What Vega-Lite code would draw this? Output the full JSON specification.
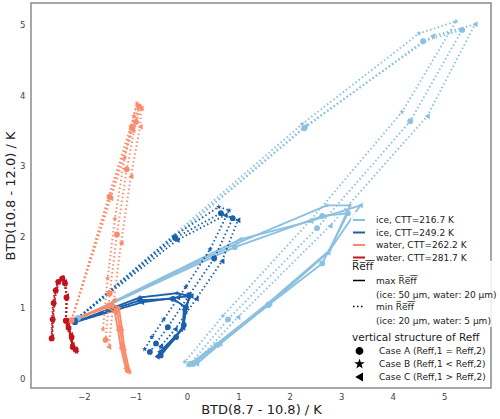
{
"$schema": "https://vega.github.io/schema/vega-lite/v6.json",
"width": 460, "height": 385,
"autosize": "none",
"padding": {"left": 31, "top": 3, "right": 9, "bottom": 31},
"config": {
  "font": "DejaVu Sans",
  "view": {"stroke": "#8a8a8a", "strokeWidth": 1.5},
  "axis": {"grid": false, "ticks": false, "domain": false, "labelFontSize": 8.5, "labelColor": "#444", "titleFontSize": 13, "titleFontWeight": "normal", "titleColor": "#222"},
  "legend": {"orient": "none", "labelFontSize": 9, "titleFontSize": 10.5, "titleFontWeight": "normal", "labelColor": "#222", "titleColor": "#222", "padding": 1, "fillColor": "rgba(255,255,255,0.85)", "rowPadding": 0.5, "labelOffset": 10, "titlePadding": 1},
  "style": {"guide-label": {"lineHeight": 14}}
},
"data": {"values": [
{"g":"a","r":"max","c":"A","o":0,"x":-2.16,"y":0.82},{"g":"a","r":"max","c":"A","o":1,"x":0.93,"y":1.85},{"g":"a","r":"max","c":"A","o":2,"x":2.63,"y":2.29},{"g":"a","r":"max","c":"A","o":3,"x":3.13,"y":2.33},{"g":"a","r":"max","c":"A","o":4,"x":2.63,"y":1.62},{"g":"a","r":"max","c":"A","o":5,"x":1.58,"y":1.03},{"g":"a","r":"max","c":"A","o":6,"x":0.60,"y":0.47},{"g":"a","r":"max","c":"A","o":7,"x":0.12,"y":0.20},
{"g":"a","r":"max","c":"B","o":0,"x":-2.16,"y":0.82},{"g":"a","r":"max","c":"B","o":1,"x":0.99,"y":1.91},{"g":"a","r":"max","c":"B","o":2,"x":2.72,"y":2.44},{"g":"a","r":"max","c":"B","o":3,"x":3.17,"y":2.44},{"g":"a","r":"max","c":"B","o":4,"x":2.78,"y":1.81},{"g":"a","r":"max","c":"B","o":5,"x":1.58,"y":1.06},{"g":"a","r":"max","c":"B","o":6,"x":0.56,"y":0.47},{"g":"a","r":"max","c":"B","o":7,"x":0.02,"y":0.18},
{"g":"a","r":"max","c":"C","o":0,"x":-2.16,"y":0.82},{"g":"a","r":"max","c":"C","o":1,"x":1.03,"y":1.96},{"g":"a","r":"max","c":"C","o":2,"x":2.41,"y":2.22},{"g":"a","r":"max","c":"C","o":3,"x":3.37,"y":2.44},{"g":"a","r":"max","c":"C","o":4,"x":2.74,"y":1.77},{"g":"a","r":"max","c":"C","o":5,"x":1.61,"y":1.05},{"g":"a","r":"max","c":"C","o":6,"x":0.64,"y":0.48},{"g":"a","r":"max","c":"C","o":7,"x":0.19,"y":0.20},
{"g":"a","r":"min","c":"B","o":0,"x":-2.12,"y":0.85},{"g":"a","r":"min","c":"B","o":1,"x":2.24,"y":3.59},{"g":"a","r":"min","c":"B","o":2,"x":4.51,"y":4.87},{"g":"a","r":"min","c":"B","o":3,"x":5.23,"y":5.04},{"g":"a","r":"min","c":"B","o":4,"x":4.18,"y":3.76},{"g":"a","r":"min","c":"B","o":5,"x":2.39,"y":2.22},{"g":"a","r":"min","c":"B","o":6,"x":0.70,"y":0.88},{"g":"a","r":"min","c":"B","o":7,"x":-0.04,"y":0.23},
{"g":"a","r":"min","c":"A","o":0,"x":-2.12,"y":0.85},{"g":"a","r":"min","c":"A","o":1,"x":2.28,"y":3.53},{"g":"a","r":"min","c":"A","o":2,"x":4.59,"y":4.76},{"g":"a","r":"min","c":"A","o":3,"x":5.35,"y":4.92},{"g":"a","r":"min","c":"A","o":4,"x":4.34,"y":3.63},{"g":"a","r":"min","c":"A","o":5,"x":2.53,"y":2.12},{"g":"a","r":"min","c":"A","o":6,"x":0.80,"y":0.83},{"g":"a","r":"min","c":"A","o":7,"x":0.06,"y":0.20},
{"g":"a","r":"min","c":"C","o":0,"x":-2.12,"y":0.85},{"g":"a","r":"min","c":"C","o":1,"x":2.30,"y":3.56},{"g":"a","r":"min","c":"C","o":2,"x":4.77,"y":4.83},{"g":"a","r":"min","c":"C","o":3,"x":5.60,"y":5.00},{"g":"a","r":"min","c":"C","o":4,"x":4.67,"y":3.70},{"g":"a","r":"min","c":"C","o":5,"x":2.78,"y":2.15},{"g":"a","r":"min","c":"C","o":6,"x":0.99,"y":0.86},{"g":"a","r":"min","c":"C","o":7,"x":0.18,"y":0.23},
{"g":"b","r":"max","c":"A","o":0,"x":-2.18,"y":0.79},{"g":"b","r":"max","c":"A","o":1,"x":-0.91,"y":1.10},{"g":"b","r":"max","c":"A","o":2,"x":-0.27,"y":1.12},{"g":"b","r":"max","c":"A","o":3,"x":-0.02,"y":1.00},{"g":"b","r":"max","c":"A","o":4,"x":-0.06,"y":0.75},{"g":"b","r":"max","c":"A","o":5,"x":-0.21,"y":0.58},{"g":"b","r":"max","c":"A","o":6,"x":-0.51,"y":0.32},
{"g":"b","r":"max","c":"B","o":0,"x":-2.18,"y":0.79},{"g":"b","r":"max","c":"B","o":1,"x":-0.91,"y":1.14},{"g":"b","r":"max","c":"B","o":2,"x":-0.19,"y":1.20},{"g":"b","r":"max","c":"B","o":3,"x":0.04,"y":1.16},{"g":"b","r":"max","c":"B","o":4,"x":-0.02,"y":0.93},{"g":"b","r":"max","c":"B","o":5,"x":-0.10,"y":0.68},{"g":"b","r":"max","c":"B","o":6,"x":-0.53,"y":0.37},
{"g":"b","r":"max","c":"C","o":0,"x":-2.18,"y":0.79},{"g":"b","r":"max","c":"C","o":1,"x":-0.88,"y":1.07},{"g":"b","r":"max","c":"C","o":2,"x":-0.18,"y":1.14},{"g":"b","r":"max","c":"C","o":3,"x":0.08,"y":1.16},{"g":"b","r":"max","c":"C","o":4,"x":-0.06,"y":0.97},{"g":"b","r":"max","c":"C","o":5,"x":-0.08,"y":0.71},{"g":"b","r":"max","c":"C","o":6,"x":-0.58,"y":0.30},
{"g":"b","r":"min","c":"B","o":0,"x":-2.18,"y":0.81},{"g":"b","r":"min","c":"B","o":1,"x":-0.25,"y":2.01},{"g":"b","r":"min","c":"B","o":2,"x":0.62,"y":2.42},{"g":"b","r":"min","c":"B","o":3,"x":0.82,"y":2.37},{"g":"b","r":"min","c":"B","o":4,"x":0.45,"y":1.82},{"g":"b","r":"min","c":"B","o":5,"x":-0.02,"y":1.29},{"g":"b","r":"min","c":"B","o":6,"x":-0.45,"y":0.83},{"g":"b","r":"min","c":"B","o":7,"x":-0.68,"y":0.58},{"g":"b","r":"min","c":"B","o":8,"x":-0.82,"y":0.41},
{"g":"b","r":"min","c":"A","o":0,"x":-2.18,"y":0.81},{"g":"b","r":"min","c":"A","o":1,"x":-0.23,"y":1.98},{"g":"b","r":"min","c":"A","o":2,"x":0.66,"y":2.33},{"g":"b","r":"min","c":"A","o":3,"x":0.89,"y":2.26},{"g":"b","r":"min","c":"A","o":4,"x":0.53,"y":1.69},{"g":"b","r":"min","c":"A","o":5,"x":0.04,"y":1.17},{"g":"b","r":"min","c":"A","o":6,"x":-0.37,"y":0.72},{"g":"b","r":"min","c":"A","o":7,"x":-0.60,"y":0.49},{"g":"b","r":"min","c":"A","o":8,"x":-0.72,"y":0.37},
{"g":"b","r":"min","c":"C","o":0,"x":-2.18,"y":0.81},{"g":"b","r":"min","c":"C","o":1,"x":-0.19,"y":1.95},{"g":"b","r":"min","c":"C","o":2,"x":0.74,"y":2.30},{"g":"b","r":"min","c":"C","o":3,"x":0.99,"y":2.23},{"g":"b","r":"min","c":"C","o":4,"x":0.68,"y":1.65},{"g":"b","r":"min","c":"C","o":5,"x":0.18,"y":1.12},{"g":"b","r":"min","c":"C","o":6,"x":-0.23,"y":0.69},{"g":"b","r":"min","c":"C","o":7,"x":-0.51,"y":0.45},{"g":"b","r":"min","c":"C","o":8,"x":-0.56,"y":0.32},
{"g":"c","r":"max","c":"A","o":0,"x":-2.26,"y":0.81},{"g":"c","r":"max","c":"A","o":1,"x":-1.50,"y":1.03},{"g":"c","r":"max","c":"A","o":2,"x":-1.36,"y":0.96},{"g":"c","r":"max","c":"A","o":3,"x":-1.30,"y":0.71},{"g":"c","r":"max","c":"A","o":4,"x":-1.25,"y":0.44},{"g":"c","r":"max","c":"A","o":5,"x":-1.15,"y":0.11},
{"g":"c","r":"max","c":"B","o":0,"x":-2.26,"y":0.81},{"g":"c","r":"max","c":"B","o":1,"x":-1.46,"y":1.05},{"g":"c","r":"max","c":"B","o":2,"x":-1.32,"y":0.99},{"g":"c","r":"max","c":"B","o":3,"x":-1.26,"y":0.68},{"g":"c","r":"max","c":"B","o":4,"x":-1.21,"y":0.40},{"g":"c","r":"max","c":"B","o":5,"x":-1.11,"y":0.08},
{"g":"c","r":"max","c":"C","o":0,"x":-2.26,"y":0.81},{"g":"c","r":"max","c":"C","o":1,"x":-1.54,"y":1.00},{"g":"c","r":"max","c":"C","o":2,"x":-1.40,"y":0.93},{"g":"c","r":"max","c":"C","o":3,"x":-1.34,"y":0.68},{"g":"c","r":"max","c":"C","o":4,"x":-1.28,"y":0.42},{"g":"c","r":"max","c":"C","o":5,"x":-1.19,"y":0.14},
{"g":"c","r":"min","c":"B","o":0,"x":-2.24,"y":0.82},{"g":"c","r":"min","c":"B","o":1,"x":-1.52,"y":2.57},{"g":"c","r":"min","c":"B","o":2,"x":-1.09,"y":3.56},{"g":"c","r":"min","c":"B","o":3,"x":-0.97,"y":3.88},{"g":"c","r":"min","c":"B","o":4,"x":-1.03,"y":3.70},{"g":"c","r":"min","c":"B","o":5,"x":-1.21,"y":3.11},{"g":"c","r":"min","c":"B","o":6,"x":-1.40,"y":2.25},{"g":"c","r":"min","c":"B","o":7,"x":-1.54,"y":1.41},{"g":"c","r":"min","c":"B","o":8,"x":-1.63,"y":0.69},
{"g":"c","r":"min","c":"A","o":0,"x":-2.24,"y":0.82},{"g":"c","r":"min","c":"A","o":1,"x":-1.50,"y":2.56},{"g":"c","r":"min","c":"A","o":2,"x":-1.07,"y":3.53},{"g":"c","r":"min","c":"A","o":3,"x":-0.93,"y":3.84},{"g":"c","r":"min","c":"A","o":4,"x":-0.99,"y":3.62},{"g":"c","r":"min","c":"A","o":5,"x":-1.17,"y":2.95},{"g":"c","r":"min","c":"A","o":6,"x":-1.36,"y":2.03},{"g":"c","r":"min","c":"A","o":7,"x":-1.50,"y":1.20},{"g":"c","r":"min","c":"A","o":8,"x":-1.58,"y":0.54},
{"g":"c","r":"min","c":"C","o":0,"x":-2.24,"y":0.82},{"g":"c","r":"min","c":"C","o":1,"x":-1.48,"y":2.54},{"g":"c","r":"min","c":"C","o":2,"x":-1.05,"y":3.50},{"g":"c","r":"min","c":"C","o":3,"x":-0.89,"y":3.81},{"g":"c","r":"min","c":"C","o":4,"x":-0.91,"y":3.55},{"g":"c","r":"min","c":"C","o":5,"x":-1.09,"y":2.85},{"g":"c","r":"min","c":"C","o":6,"x":-1.28,"y":1.91},{"g":"c","r":"min","c":"C","o":7,"x":-1.42,"y":1.10},{"g":"c","r":"min","c":"C","o":8,"x":-1.52,"y":0.44},
{"g":"d","r":"max","c":"A","o":0,"x":-2.35,"y":0.81},{"g":"d","r":"max","c":"A","o":1,"x":-2.30,"y":0.71},{"g":"d","r":"max","c":"A","o":2,"x":-2.24,"y":0.58},{"g":"d","r":"max","c":"A","o":3,"x":-2.22,"y":0.44},{"g":"d","r":"max","c":"A","o":4,"x":-2.16,"y":0.40},
{"g":"d","r":"max","c":"B","o":0,"x":-2.35,"y":0.81},{"g":"d","r":"max","c":"B","o":1,"x":-2.29,"y":0.68},{"g":"d","r":"max","c":"B","o":2,"x":-2.24,"y":0.54},{"g":"d","r":"max","c":"B","o":3,"x":-2.20,"y":0.42},{"g":"d","r":"max","c":"B","o":4,"x":-2.14,"y":0.37},
{"g":"d","r":"max","c":"C","o":0,"x":-2.35,"y":0.81},{"g":"d","r":"max","c":"C","o":1,"x":-2.32,"y":0.74},{"g":"d","r":"max","c":"C","o":2,"x":-2.26,"y":0.61},{"g":"d","r":"max","c":"C","o":3,"x":-2.23,"y":0.47},{"g":"d","r":"max","c":"C","o":4,"x":-2.18,"y":0.41},
{"g":"d","r":"min","c":"A","o":0,"x":-2.35,"y":0.81},{"g":"d","r":"min","c":"A","o":1,"x":-2.34,"y":1.14},{"g":"d","r":"min","c":"A","o":2,"x":-2.37,"y":1.34},{"g":"d","r":"min","c":"A","o":3,"x":-2.42,"y":1.41},{"g":"d","r":"min","c":"A","o":4,"x":-2.50,"y":1.36},{"g":"d","r":"min","c":"A","o":5,"x":-2.55,"y":1.24},{"g":"d","r":"min","c":"A","o":6,"x":-2.59,"y":1.06},{"g":"d","r":"min","c":"A","o":7,"x":-2.61,"y":0.83},{"g":"d","r":"min","c":"A","o":8,"x":-2.63,"y":0.56},
{"g":"d","r":"min","c":"B","o":0,"x":-2.35,"y":0.81},{"g":"d","r":"min","c":"B","o":1,"x":-2.33,"y":1.12},{"g":"d","r":"min","c":"B","o":2,"x":-2.36,"y":1.32},{"g":"d","r":"min","c":"B","o":3,"x":-2.41,"y":1.40},{"g":"d","r":"min","c":"B","o":4,"x":-2.49,"y":1.35},{"g":"d","r":"min","c":"B","o":5,"x":-2.54,"y":1.22},{"g":"d","r":"min","c":"B","o":6,"x":-2.58,"y":1.04},{"g":"d","r":"min","c":"B","o":7,"x":-2.60,"y":0.81},{"g":"d","r":"min","c":"B","o":8,"x":-2.62,"y":0.55},
{"g":"d","r":"min","c":"C","o":0,"x":-2.35,"y":0.81},{"g":"d","r":"min","c":"C","o":1,"x":-2.34,"y":1.16},{"g":"d","r":"min","c":"C","o":2,"x":-2.38,"y":1.36},{"g":"d","r":"min","c":"C","o":3,"x":-2.43,"y":1.42},{"g":"d","r":"min","c":"C","o":4,"x":-2.51,"y":1.37},{"g":"d","r":"min","c":"C","o":5,"x":-2.56,"y":1.25},{"g":"d","r":"min","c":"C","o":6,"x":-2.60,"y":1.07},{"g":"d","r":"min","c":"C","o":7,"x":-2.62,"y":0.84},{"g":"d","r":"min","c":"C","o":8,"x":-2.63,"y":0.58}
]},
"encoding": {
  "x": {"field": "x", "type": "quantitative", "scale": {"domain": [-3.03, 5.91], "nice": false, "zero": false}, "axis": {"title": "BTD(8.7 - 10.8) / K", "values": [-2, -1, 0, 1, 2, 3, 4, 5], "labelPadding": 4, "titlePadding": 3, "labelExpr": "replace(datum.label, '-', '\u2212')"}},
  "y": {"field": "y", "type": "quantitative", "scale": {"domain": [-0.14, 5.30], "nice": false, "zero": false}, "axis": {"title": "BTD(10.8 - 12.0) / K", "values": [0, 1, 2, 3, 4, 5], "labelPadding": 6, "titlePadding": 2}},
  "color": {"field": "g", "type": "nominal", "scale": {"domain": ["a", "b", "c", "d"], "range": ["#8cc0e0", "#1c60ab", "#f98b6b", "#c0141e"]},
    "legend": {"title": null, "symbolType": "stroke", "symbolStrokeWidth": 2, "symbolSize": 144, "legendX": 320, "legendY": 209,
      "labelExpr": "datum.value == 'a' ? 'ice, CTT=216.7 K' : datum.value == 'b' ? 'ice, CTT=249.2 K' : datum.value == 'c' ? 'water, CTT=262.2 K' : 'water, CTT=281.7 K'"}}
},
"layer": [
  {"mark": {"type": "line", "strokeWidth": 1.9, "strokeCap": "butt"},
   "encoding": {
     "strokeDash": {"field": "r", "type": "nominal", "scale": {"domain": ["max", "min"], "range": [[1, 0], [1.5, 2.5]]},
       "legend": {"title": "R\u0305e\u0305f\u0305f\u0305", "symbolType": "stroke", "symbolStrokeColor": "black", "symbolStrokeWidth": 1.5, "symbolSize": 144, "legendX": 320, "legendY": 258, "rowPadding": 0,
         "labelExpr": "datum.value == 'max' ? ['max R\u0305e\u0305f\u0305f\u0305', '(ice: 50 \u00b5m, water: 20 \u00b5m)'] : ['min R\u0305e\u0305f\u0305f\u0305', '(ice: 20 \u00b5m, water: 5 \u00b5m)']"}},
     "detail": {"field": "c"},
     "order": {"field": "o", "type": "quantitative"}
   }},
  {"mark": {"type": "point", "filled": true, "opacity": 1, "size": 34},
   "encoding": {
     "shape": {"field": "c", "type": "nominal", "scale": {"domain": ["A", "B", "C"], "range": ["circle", "M0,-1L0.235,-0.324L0.951,-0.309L0.38,0.124L0.588,0.809L0,0.4L-0.588,0.809L-0.38,0.124L-0.951,-0.309L-0.235,-0.324Z", "triangle-left"]},
       "legend": {"title": "vertical structure of Reff", "symbolFillColor": "black", "symbolStrokeColor": "black", "symbolSize": 40, "legendX": 320, "legendY": 329, "rowPadding": 0, "clipHeight": 13, "labelOffset": 15, "symbolOffset": 3,
         "labelExpr": "datum.value == 'A' ? 'Case A (Reff,1 = Reff,2)' : datum.value == 'B' ? 'Case B (Reff,1 < Reff,2)' : 'Case C (Reff,1 > Reff,2)'"}}
   }}
]
}
